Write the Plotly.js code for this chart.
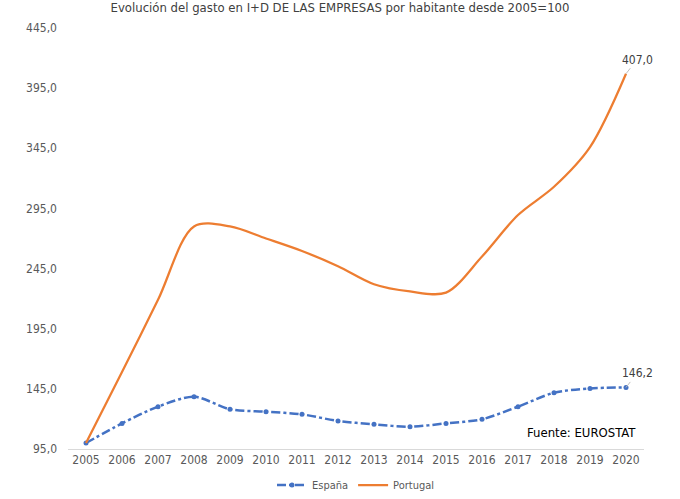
<!DOCTYPE html>
<html>
<head>
<meta charset="utf-8">
<script src="https://cdn.plot.ly/plotly-3.0.1.min.js"></script>
<style>
  html, body { margin: 0; padding: 0; background: #fff; }
  #chart { width: 680px; height: 499px; }
</style>
</head>
<body>
<div id="chart"></div>
<script>
// años y valores (índice 2005=100)
let years = ['2005', '2006', '2007', '2008', '2009', '2010', '2011', '2012',
             '2013', '2014', '2015', '2016', '2017', '2018', '2019', '2020'];
let espana = [100, 116.3, 130.2, 138.5, 128.0, 126.0, 123.8, 118.3,
              115.5, 113.5, 116.3, 119.7, 130.2, 141.8, 145.4, 146.2];
let portugal = [100, 159, 219, 280, 280, 270, 259.6, 247,
                232, 226, 225, 255, 289.5, 313, 346, 407.0];

let font = "'DejaVu Sans Condensed', 'DejaVu Sans', sans-serif";

var trace1 = {
    x: years,
    y: espana,
    name: 'España',
    mode: 'lines+markers',
    line: { color: '#4472C4', width: 2.5, dash: 'dashdot', shape: 'spline', smoothing: 0.8 },
    marker: { color: '#4472C4', size: 5, symbol: 'circle' }
};

var trace2 = {
    x: years,
    y: portugal,
    name: 'Portugal',
    mode: 'lines',
    line: { color: '#ED7D31', width: 2.25, shape: 'spline', smoothing: 0.9 }
};

let last = years.length - 1;

var layout = {
    width: 680,
    height: 499,
    margin: { l: 68, r: 36, t: 28, b: 50 },
    paper_bgcolor: '#ffffff',
    plot_bgcolor: '#ffffff',
    separators: ',.',
    font: { family: font, color: '#595959', size: 12 },
    title: {
        text: 'Evolución del gasto en I+D DE LAS EMPRESAS por habitante desde 2005=100',
        font: { family: font, size: 13, color: '#404040' },
        x: 0.5,
        xanchor: 'center',
        y: 0.985,
        yanchor: 'middle'
    },
    xaxis: {
        type: 'category',
        range: [-0.5, 15.5],
        automargin: false,
        showgrid: false,
        zeroline: false,
        showline: true,
        linecolor: '#d9d9d9',
        linewidth: 1,
        ticks: '',
        tickfont: { family: font, size: 12, color: '#595959' }
    },
    yaxis: {
        range: [95, 445],
        automargin: false,
        tick0: 95,
        dtick: 50,
        tickformat: '.1f',
        showgrid: false,
        zeroline: false,
        showline: false,
        ticks: '',
        ticklabelstandoff: 10,
        tickfont: { family: font, size: 12, color: '#595959' }
    },
    showlegend: true,
    legend: {
        orientation: 'h',
        yref: 'container',
        x: 0.5,
        xanchor: 'center',
        y: 0.028,
        yanchor: 'middle',
        font: { family: font, size: 11, color: '#595959' },
        itemwidth: 30
    },
    annotations: [
        {
            x: last, y: portugal[last],
            text: portugal[last].toFixed(1).replace('.', ','),
            showarrow: true, arrowhead: 0, arrowwidth: 1, arrowcolor: '#bfbfbf',
            ax: 11, ay: -14,
            font: { family: font, size: 12, color: '#404040' }
        },
        {
            x: last, y: espana[last],
            text: espana[last].toFixed(1).replace('.', ','),
            showarrow: true, arrowhead: 0, arrowwidth: 1, arrowcolor: '#bfbfbf',
            ax: 11, ay: -14,
            font: { family: font, size: 12, color: '#404040' }
        },
        {
            xref: 'paper', yref: 'y',
            x: 0.892, y: 109,
            xanchor: 'center',
            text: 'Fuente: EUROSTAT',
            showarrow: false,
            font: { family: font, size: 13, color: '#000000' }
        }
    ]
};

Plotly.newPlot('chart', [trace1, trace2], layout, { displayModeBar: false, staticPlot: true });
</script>
</body>
</html>
